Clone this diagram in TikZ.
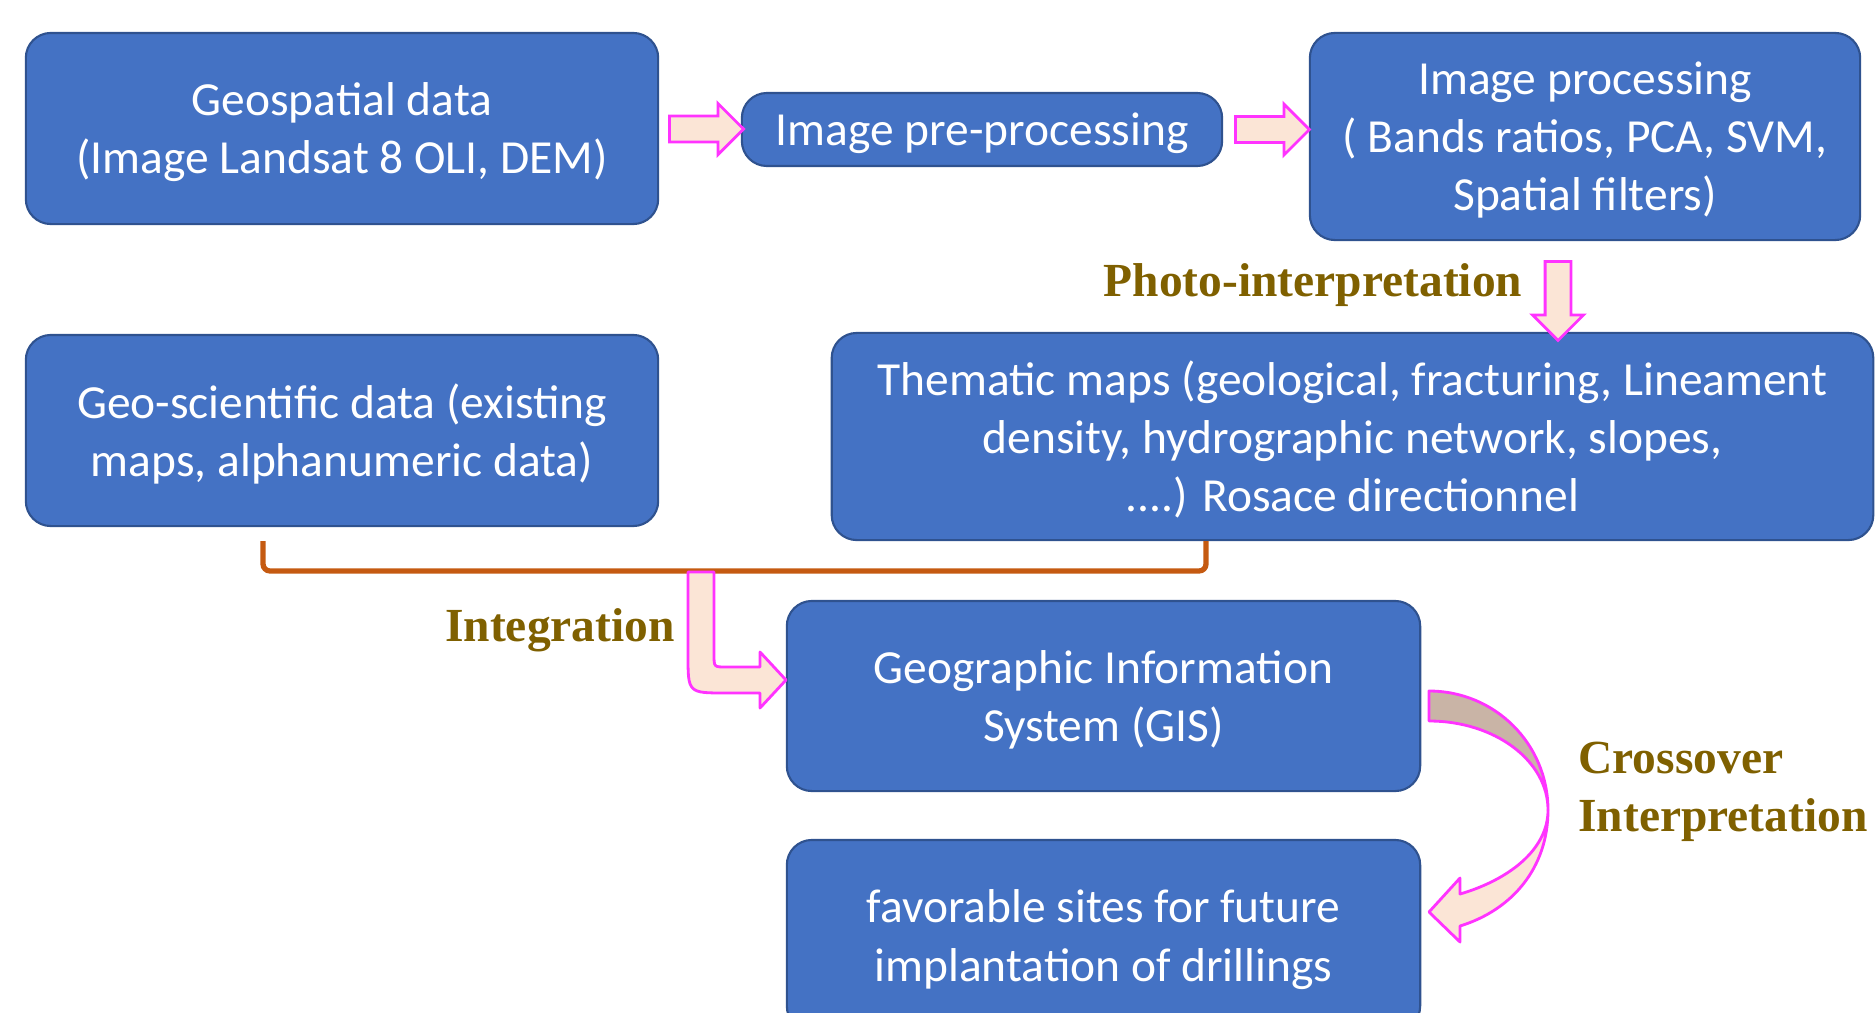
\documentclass[tikz,border=0pt]{standalone}
\usepackage{fontspec}
\setmainfont{Carlito}
\newfontfamily\labelfont{Liberation Serif}
\usetikzlibrary{shapes.arrows,calc}
\definecolor{boxblue}{HTML}{4472C4}
\definecolor{boxedge}{HTML}{2F528F}
\definecolor{arrowfill}{HTML}{FBE5D6}
\definecolor{arrowback}{HTML}{C9B4A6}
\definecolor{arrowedge}{HTML}{FF33FF}
\definecolor{bracketbrown}{HTML}{C55A11}
\definecolor{labelbrown}{HTML}{7F6000}
\begin{document}
\begin{tikzpicture}[x=0.01cm,y=-0.01cm,
		every node/.style={font=\fontsize{13.5}{16.5}\selectfont},
		mybox/.style={rectangle,rounded corners=0.25cm,fill=boxblue,draw=boxedge,line width=0.6pt,text=white,align=center,inner sep=0pt,text depth=0pt},
		fatarrow/.style={single arrow,fill=arrowfill,draw=arrowedge,line width=0.8pt,minimum height=0.74cm,minimum width=0.48cm,inner sep=0.115cm,single arrow head extend=0.125cm,outer sep=0pt},
		fatpath/.style={draw=arrowedge,line width=0.8pt,line join=round},
		mylabel/.style={font=\labelfont\bfseries\fontsize{13.5}{16.5}\selectfont,text=labelbrown},
		bracket/.style={draw=bracketbrown,line width=1.5pt,rounded corners=2pt}]
		
		\useasboundingbox (0,0) rectangle (1876,1012);
		
		\node[mybox,minimum width=6.32cm,minimum height=1.91cm] (geo) at (342,128.5) {Geospatial data\\(Image Landsat 8 OLI, DEM)};
		\node[mybox,minimum width=4.80cm,minimum height=0.73cm] (pre) at (982,129.5) {Image pre-processing};
		\node[mybox,minimum width=5.50cm,minimum height=2.07cm] (proc) at (1585,136.5) {Image processing\\( Bands ratios, PCA, SVM,\\Spatial filters)};
		\node[mybox,minimum width=6.32cm,minimum height=1.91cm] (geosci) at (342,430.5) {Geo-scientific data (existing\\maps, alphanumeric data)};
		\node[mybox,minimum width=10.41cm,minimum height=2.07cm] (them) at (1352.5,436.5) {Thematic maps (geological, fracturing, Lineament\\density, hydrographic network, slopes,\\....) Rosace directionnel};
		\node[mybox,minimum width=6.33cm,minimum height=1.90cm] (gis) at (1103.5,696) {Geographic Information\\System (GIS)};
		\node[mybox,minimum width=6.33cm,minimum height=1.91cm] (fav) at (1103.5,935.5) {favorable sites for future\\implantation of drillings};
		
		\node[fatarrow] (a1) at ($(geo.east)!0.5!(pre.west)$) {};
		\node[fatarrow] (a2) at ($(pre.east)!0.5!(pre.east -| proc.west)$) {};
		\node[fatarrow,shape border rotate=270,minimum height=0.79cm] (a3) at (1558,294.5) {};
		\node[mylabel] (photo) at (1313,285) {Photo-interpretation};
		
		\coordinate (lb) at (263,541);
		\coordinate (rb) at (1206,541);
		\draw[bracket] (lb) -- ++(0,30) -| (rb);
		
		\draw[fatpath,fill=arrowfill] (688,572) -- (714,572) -- (714,655) .. controls (714,667) .. (726,667)
			-- (760,667) -- (760,652) -- (786,680) -- (760,708) -- (760,693) -- (726,693)
			.. controls (688,693) .. (688,655) -- cycle;
		\node[mylabel] (integ) at (560,630) {Integration};
		
		\draw[fatpath,fill=arrowback] (1429,691) .. controls (1495,691) and (1548,744) .. (1548,810)
			.. controls (1548,761) and (1495,721) .. (1429,721) -- cycle;
		\draw[fatpath,fill=arrowfill] (1548,810) .. controls (1548,868) and (1512,910) .. (1460,926)
			-- (1460,942) -- (1429,912) -- (1460,878) -- (1460,894)
			.. controls (1508,880) and (1548,850) .. (1548,810) -- cycle;
		\node[mylabel,align=left,anchor=west] (cross) at (1566,792) {Crossover\\Interpretation};
		
\end{tikzpicture}
\end{document}
